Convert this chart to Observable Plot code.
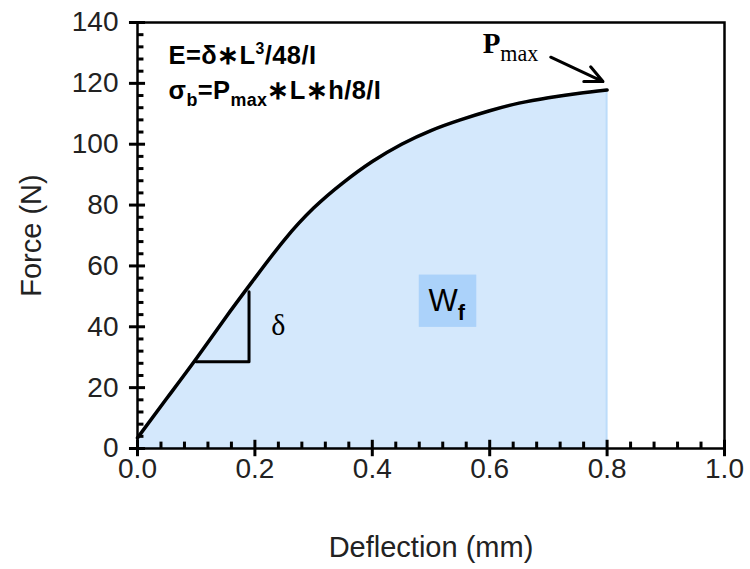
<!DOCTYPE html>
<html>
<head>
<meta charset="utf-8">
<script src="https://cdn.jsdelivr.net/npm/d3@7"></script>
<script src="https://cdn.jsdelivr.net/npm/@observablehq/plot@0.6"></script>
<style>
  html, body { margin: 0; padding: 0; background: #fff; }
  #chart svg { display: block; }
</style>
</head>
<body>
<div id="chart"></div>
<script>
// ---- data ----
const deflection = [0, 0.05, 0.1, 0.15, 0.2, 0.25, 0.3, 0.35, 0.4, 0.45, 0.5, 0.55, 0.6, 0.65, 0.7, 0.75, 0.8];
const force      = [3.5, 16.5, 29.5, 43, 56, 68.5, 79, 87.3, 94.3, 100, 104.5, 108, 111, 113.5, 115.3, 116.7, 117.8];

const xTicks = [0, 0.2, 0.4, 0.6, 0.8, 1.0];
const xMinor = [0.04, 0.08, 0.12, 0.16, 0.24, 0.28, 0.32, 0.36, 0.44, 0.48, 0.52, 0.56, 0.64, 0.68, 0.72, 0.76, 0.84, 0.88, 0.92, 0.96];
const yTicks = [0, 20, 40, 60, 80, 100, 120, 140];
const yMinor = [4, 8, 12, 16, 24, 28, 32, 36, 44, 48, 52, 56, 64, 68, 72, 76, 84, 88, 92, 96, 104, 108, 112, 116, 124, 128, 132, 136];

// annotations
const slopeX = [0.1, 0.19, 0.19];
const slopeY = [28.5, 28.5, 51.5];
const formulaLines = ["E=δ∗L^{3}/48/I", "σ_{b}=P_{max}∗L∗h/8/I"];
const formulaX = [0.053, 0.053];
const formulaY = [126.5, 115];
const wfBox = [{x1: 0.48, x2: 0.578, y1: 39.8, y2: 57}];
const pmaxArrow = [{x1: 0.704, y1: 128.6, x2: 0.793, y2: 120.6}];

const curve = deflection.map((d, i) => ({x: d, y: force[i]}));
const slope = slopeX.map((d, i) => ({x: d, y: slopeY[i]}));
const formulas = formulaLines.map((t, i) => ({t, x: formulaX[i], y: formulaY[i]}));

// tick lengths expressed in data units (x: 1 unit = 587px, y: 1 N = 3.04px)
const tk = {xMajor: 2.7, xMinor: 2.1, yMajor: 0.0137, yMinor: 0.011};
const tickStyle = {stroke: "#000", strokeWidth: 3};

const plot = Plot.plot({
  width: 750,
  height: 569,
  marginLeft: 137,
  marginRight: 26,
  marginTop: 22,
  marginBottom: 121,
  style: {fontFamily: "'Liberation Sans', Arial, sans-serif", fontSize: "28px", color: "#222", background: "#fff"},
  x: {domain: [0, 1]},
  y: {domain: [0, 140]},
  marks: [
    Plot.areaY(curve, {x: "x", y: "y", curve: "natural", fill: "#d4e8fc", stroke: "#bcdcfa", strokeWidth: 2}),
    Plot.rect(wfBox, {x1: "x1", x2: "x2", y1: "y1", y2: "y2", fill: "#abd2fa"}),
    Plot.text(["W_{f}"], {x: 0.527, y: 48.4, text: d => d, fontSize: 31, fill: "#000", className: "rich wf"}),
    Plot.line(curve, {x: "x", y: "y", curve: "natural", stroke: "#000", strokeWidth: 3.5}),
    Plot.line(slope, {x: "x", y: "y", stroke: "#000", strokeWidth: 3}),
    Plot.text(["δ"], {x: 0.24, y: 40.5, text: d => d, fontSize: 30, fontFamily: "'Liberation Serif', 'Times New Roman', serif", fill: "#000"}),
    Plot.text(formulas, {x: "x", y: "y", text: "t", textAnchor: "start", lineAnchor: "bottom", fontSize: 25.5, fontWeight: "bold", fill: "#000", className: "rich formula"}),
    Plot.text(["P_{max}"], {x: 0.588, y: 130, text: d => d, textAnchor: "start", lineAnchor: "bottom", fontSize: 29, fontWeight: "bold", fontFamily: "'Liberation Serif', 'Times New Roman', serif", fill: "#000", className: "rich pmax"}),
    Plot.arrow(pmaxArrow, {x1: "x1", y1: "y1", x2: "x2", y2: "y2", stroke: "#000", strokeWidth: 3, headLength: 16, headAngle: 50}),
    Plot.frame({stroke: "#000", strokeWidth: 2.5}),
    // tick marks: majors cross the axis, minors point inward
    Plot.ruleX(xTicks, {x: d => d, y1: -tk.xMajor, y2: tk.xMajor, ...tickStyle}),
    Plot.ruleX(xMinor, {x: d => d, y1: 0, y2: tk.xMinor, ...tickStyle}),
    Plot.ruleY(yTicks, {y: d => d, x1: -tk.yMajor, x2: tk.yMajor, ...tickStyle}),
    Plot.ruleY(yMinor, {y: d => d, x1: 0, x2: tk.yMinor, ...tickStyle}),
    // tick labels and titles
    Plot.axisX({ticks: xTicks, tickSize: 0, tickPadding: 10, tickFormat: d => d.toFixed(1), label: "Deflection (mm)", labelAnchor: "center", labelOffset: 108, labelArrow: "none", fontSize: 28, fill: "#222"}),
    Plot.axisY({ticks: yTicks, tickSize: 0, tickPadding: 19, tickFormat: d => String(d), label: "Force (N)", labelAnchor: "center", labelOffset: 117, labelArrow: "none", fontSize: 28, fill: "#222"})
  ]
});

// axis titles slightly larger than tick labels
d3.select(plot).selectAll("g[aria-label='x-axis label'] text, g[aria-label='y-axis label'] text").attr("font-size", 29);
d3.select(plot).selectAll("g.formula text").attr("letter-spacing", "0.4px");

// Rich text: turn _{..} and ^{..} into sub/superscript tspans
d3.select(plot).selectAll("g.rich text").each(function() {
  const el = d3.select(this);
  const raw = el.text();
  const isPmax = this.parentNode.classList.contains("pmax");
  const isWf = this.parentNode.classList.contains("wf");
  const fs = parseFloat(this.parentNode.getAttribute("font-size") || el.attr("font-size") || 24);
  el.text(null);
  const re = /([_^])\{([^}]*)\}/g;
  let last = 0, m, shift = 0;
  const add = (txt, dy, small, sup) => {
    const t = el.append("tspan").text(txt);
    if (dy) t.attr("dy", dy);
    if (small) {
      t.attr("font-size", sup ? fs * 0.62 : isPmax ? fs * 0.76 : fs * 0.7);
      if (isPmax) t.attr("font-weight", "normal");
      if (isWf) t.attr("font-weight", "bold");
    }
  };
  while ((m = re.exec(raw))) {
    if (m.index > last) { add(raw.slice(last, m.index), shift ? -shift : null, false); shift = 0; }
    const d = m[1] === "_" ? fs * 0.28 : -fs * 0.38;
    add(m[2], d, true, m[1] === "^");
    shift = d;
    last = re.lastIndex;
  }
  if (last < raw.length) add(raw.slice(last), shift ? -shift : null, false);
});

document.getElementById("chart").appendChild(plot);
</script>
</body>
</html>
